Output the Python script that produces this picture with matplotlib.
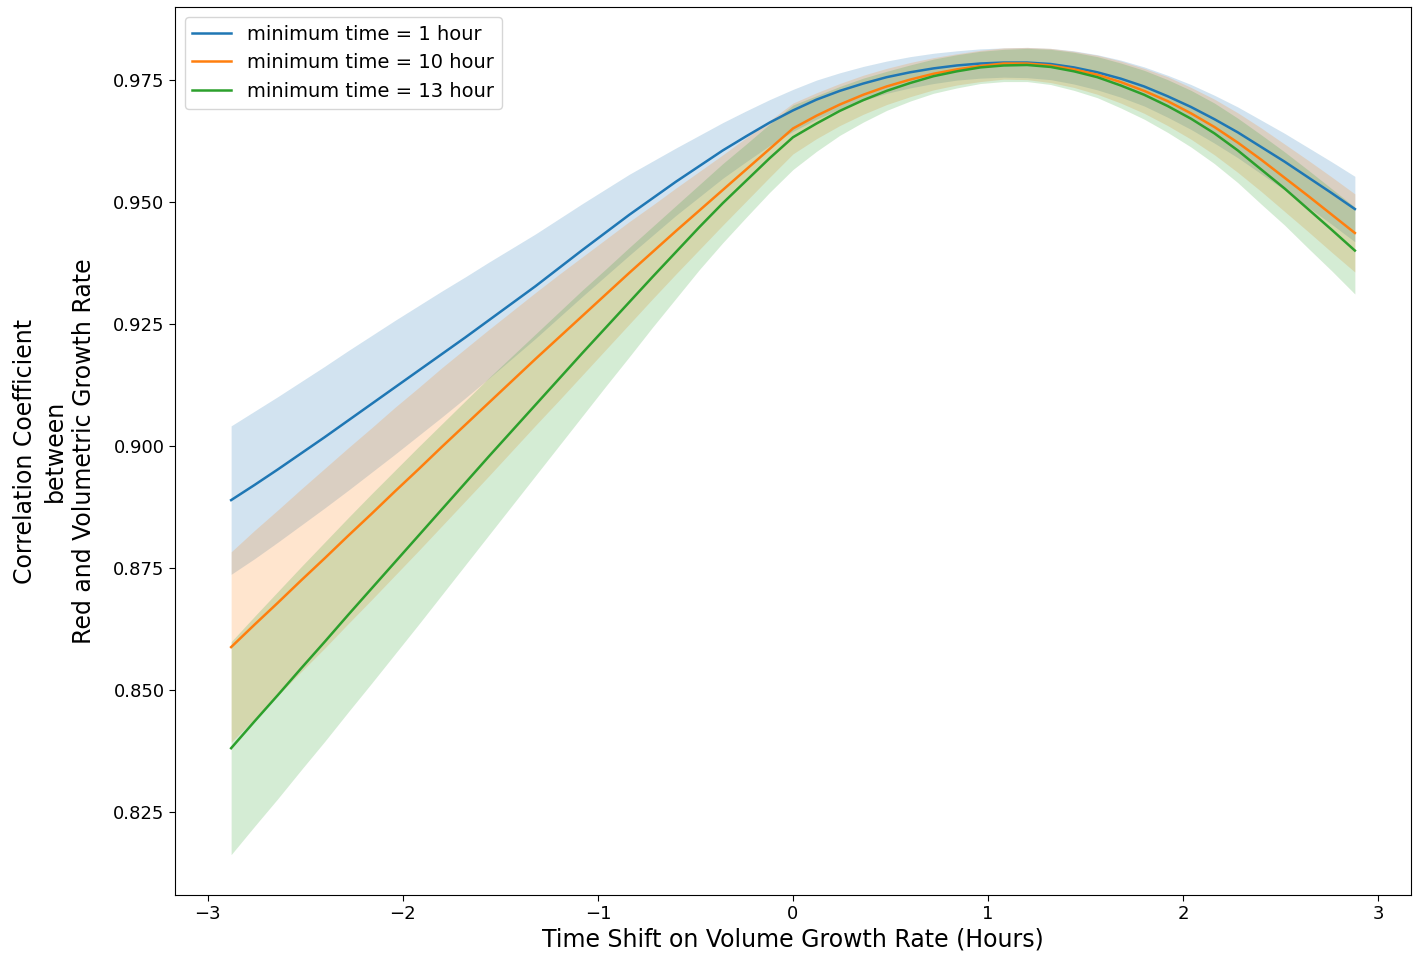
import numpy as np
import matplotlib
matplotlib.use("Agg")
import matplotlib.pyplot as plt

# time shift (hours)
shift = [-2.88, -2.76, -2.64, -2.52, -2.40, -2.28, -2.16, -2.04, -1.92, -1.80,
         -1.68, -1.56, -1.44, -1.32, -1.20, -1.08, -0.96, -0.84, -0.72, -0.60,
         -0.48, -0.36, -0.24, -0.12, 0.00, 0.12, 0.24, 0.36, 0.48, 0.60,
         0.72, 0.84, 0.96, 1.08, 1.20, 1.32, 1.44, 1.56, 1.68, 1.80,
         1.92, 2.04, 2.16, 2.28, 2.40, 2.52, 2.64, 2.76, 2.88]

labels = ["minimum time = 1 hour", "minimum time = 10 hour", "minimum time = 13 hour"]

corr_1h = [0.8889, 0.8920, 0.8952, 0.8985, 0.9018, 0.9052, 0.9086, 0.9120, 0.9154, 0.9188,
           0.9222, 0.9257, 0.9292, 0.9327, 0.9364, 0.9401, 0.9437, 0.9473, 0.9507, 0.9541,
           0.9573, 0.9605, 0.9634, 0.9662, 0.9687, 0.9709, 0.9727, 0.9742, 0.9755, 0.9765,
           0.9773, 0.9779, 0.9783, 0.9785, 0.9785, 0.9782, 0.9775, 0.9765, 0.9752, 0.9736,
           0.9716, 0.9694, 0.9669, 0.9642, 0.9612, 0.9582, 0.9550, 0.9518, 0.9485]
corr_10h = [0.8588, 0.8634, 0.8679, 0.8725, 0.8770, 0.8816, 0.8861, 0.8907, 0.8952, 0.8998,
            0.9043, 0.9088, 0.9133, 0.9178, 0.9222, 0.9266, 0.9310, 0.9354, 0.9397, 0.9440,
            0.9482, 0.9524, 0.9566, 0.9608, 0.9650, 0.9676, 0.9699, 0.9719, 0.9736, 0.9750,
            0.9762, 0.9771, 0.9778, 0.9783, 0.9783, 0.9779, 0.9771, 0.9760, 0.9745, 0.9727,
            0.9706, 0.9681, 0.9653, 0.9621, 0.9586, 0.9549, 0.9512, 0.9474, 0.9436]
corr_13h = [0.8381, 0.8436, 0.8490, 0.8545, 0.8599, 0.8654, 0.8708, 0.8762, 0.8816, 0.8870,
            0.8924, 0.8978, 0.9031, 0.9084, 0.9137, 0.9190, 0.9242, 0.9294, 0.9346, 0.9397,
            0.9448, 0.9497, 0.9543, 0.9589, 0.9632, 0.9660, 0.9686, 0.9708, 0.9727, 0.9743,
            0.9757, 0.9767, 0.9775, 0.9779, 0.9780, 0.9776, 0.9767, 0.9755, 0.9738, 0.9719,
            0.9696, 0.9670, 0.9640, 0.9605, 0.9566, 0.9527, 0.9485, 0.9443, 0.9400]

# half-width of the confidence band
ci_1h = [0.0152, 0.0151, 0.0149, 0.0147, 0.0145, 0.0143, 0.0140, 0.0137, 0.0133, 0.0129,
         0.0124, 0.0119, 0.0113, 0.0107, 0.0101, 0.0095, 0.0089, 0.0083, 0.0076, 0.0069,
         0.0063, 0.0057, 0.0052, 0.0047, 0.0043, 0.0040, 0.0037, 0.0035, 0.0033, 0.0032,
         0.0031, 0.0030, 0.0030, 0.0030, 0.0031, 0.0032, 0.0034, 0.0036, 0.0038, 0.0040,
         0.0043, 0.0046, 0.0049, 0.0052, 0.0055, 0.0058, 0.0061, 0.0064, 0.0067]
ci_10h = [0.0195, 0.0193, 0.0190, 0.0187, 0.0184, 0.0180, 0.0176, 0.0172, 0.0167, 0.0162,
          0.0156, 0.0150, 0.0143, 0.0136, 0.0129, 0.0121, 0.0113, 0.0105, 0.0096, 0.0088,
          0.0080, 0.0072, 0.0065, 0.0058, 0.0052, 0.0047, 0.0043, 0.0040, 0.0037, 0.0035,
          0.0033, 0.0032, 0.0032, 0.0032, 0.0033, 0.0035, 0.0037, 0.0040, 0.0043, 0.0046,
          0.0050, 0.0053, 0.0057, 0.0061, 0.0065, 0.0069, 0.0073, 0.0077, 0.0080]
ci_13h = [0.0218, 0.0215, 0.0212, 0.0208, 0.0204, 0.0199, 0.0194, 0.0188, 0.0182, 0.0175,
          0.0168, 0.0161, 0.0153, 0.0145, 0.0137, 0.0129, 0.0120, 0.0112, 0.0103, 0.0095,
          0.0087, 0.0081, 0.0075, 0.0070, 0.0066, 0.0057, 0.0050, 0.0045, 0.0040, 0.0037,
          0.0035, 0.0034, 0.0033, 0.0033, 0.0034, 0.0036, 0.0039, 0.0042, 0.0046, 0.0050,
          0.0054, 0.0058, 0.0062, 0.0066, 0.0071, 0.0075, 0.0080, 0.0084, 0.0089]

colors = ["#1f77b4", "#ff7f0e", "#2ca02c"]

fig = plt.figure(figsize=(14.2, 9.63), dpi=100)
ax = fig.add_axes([0.1232, 0.0706, 0.8705, 0.9221])

x = np.array(shift)
for lab, m, ci, c in zip(labels, [corr_1h, corr_10h, corr_13h], [ci_1h, ci_10h, ci_13h], colors):
    m = np.array(m)
    ci = np.array(ci)
    ax.plot(x, m, color=c, lw=1.8, label=lab)
    ax.fill_between(x, m - ci, m + ci, color=c, alpha=0.2, lw=0)

ax.tick_params(axis="both", labelsize=13, length=4)
ax.set_xlabel("Time Shift on Volume Growth Rate (Hours)", fontsize=17, labelpad=3)
ax.set_ylabel("Correlation Coefficient\nbetween\nRed and Volumetric Growth Rate",
              fontsize=17, labelpad=12, linespacing=1.3)
ax.legend(loc="upper left", fontsize=14)

fig.savefig("out.png", dpi=100)
